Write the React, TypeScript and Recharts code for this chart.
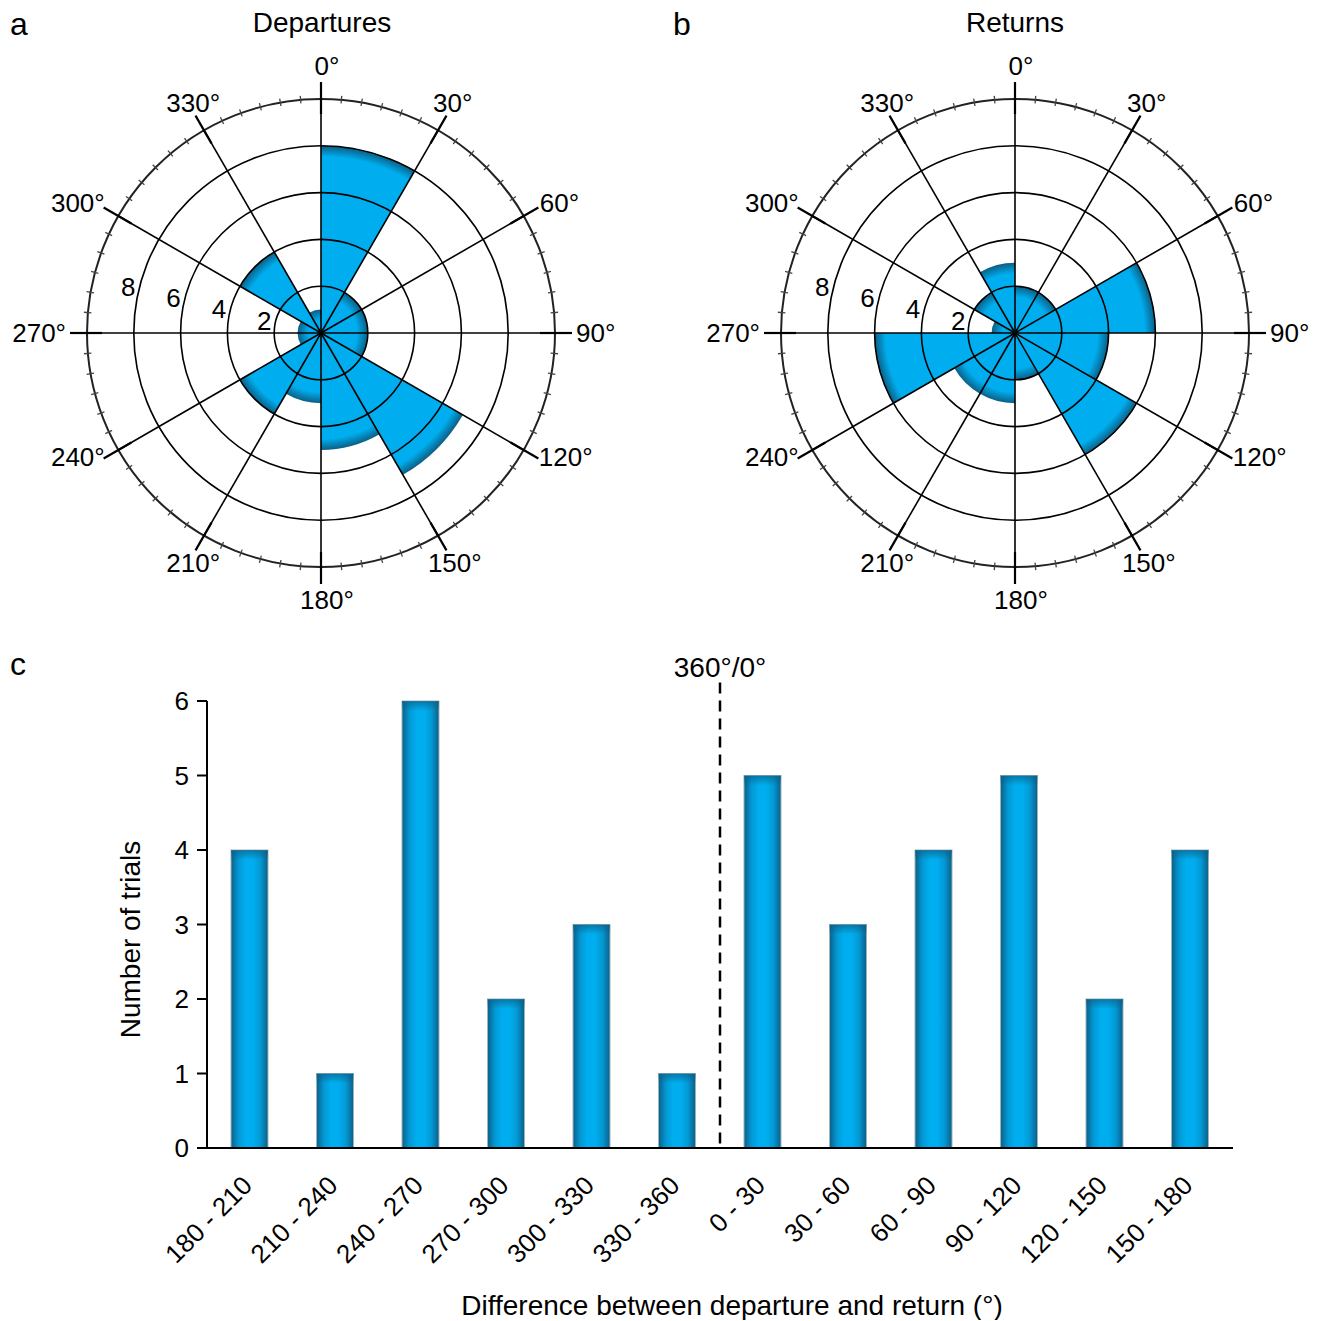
import React from 'react';
import {
  RadialBarChart,
  RadialBar,
  PolarAngleAxis,
  PolarRadiusAxis,
  PolarGrid,
  Sector,
  BarChart,
  Bar,
  XAxis,
  YAxis,
  ReferenceLine,
  Label,
} from 'recharts';

// ---------- data ----------
const sectorStarts = [0, 30, 60, 90, 120, 150, 180, 210, 240, 270, 300, 330];
const departures = [8, 2, 2, 2, 7, 5, 3, 4, 1, 1, 4, 1];
const returnsCounts = [2, 2, 6, 4, 6, 2, 3, 3, 6, 1, 2, 3];
const majorAngleStep = 30;
const rulerTicks = Array.from({ length: 72 }, (_, i) => i * 5); // 5° ruler, labels every 30°
const radiusTicks = [2, 4, 6, 8];
const radiusDomain = [0, 10];

const diffCategories = [
  '180 - 210', '210 - 240', '240 - 270', '270 - 300', '300 - 330', '330 - 360',
  '0 - 30', '30 - 60', '60 - 90', '90 - 120', '120 - 150', '150 - 180',
];
const diffCounts = [4, 1, 6, 2, 3, 1, 5, 3, 4, 5, 2, 4];
const yTicks = [0, 1, 2, 3, 4, 5, 6];
const wrapCategory = '0 - 30';
const wrapLabel = '360°/0°';

const departureData = sectorStarts.map((s, i) => ({ mid: s + 15, value: departures[i] }));
const returnData = sectorStarts.map((s, i) => ({ mid: s + 15, value: returnsCounts[i] }));
const diffData = diffCategories.map((c, i) => ({ range: c, count: diffCounts[i] }));

const FONT = '"Liberation Sans", Arial, Helvetica, sans-serif';
const BLUE = '#00AEEF';
const EDGE = '#0b5f86';
const OUTER_R = 234;
const TICK_SIZE = 8;
const CW = 620;
const CH = 630;
const CX = 321;
const CY = 333;

// ---------- polar ticks ----------
const AngleTick = (props: any) => {
  const { x, y, payload } = props;
  const th = (payload.coordinate * Math.PI) / 180;
  const ux = Math.cos(th);
  const uy = -Math.sin(th);
  const px = x - TICK_SIZE * ux; // point on the outer circle
  const py = y - TICK_SIZE * uy;
  if (payload.value % majorAngleStep !== 0) {
    return <line x1={px - 3.5 * ux} y1={py - 3.5 * uy} x2={px + 4 * ux} y2={py + 4 * uy} stroke="#444" strokeWidth={1.3} />;
  }
  const ccx = px - OUTER_R * ux;
  const ccy = py - OUTER_R * uy;
  const label = `${payload.value}°`;
  const w = (label.length - 1) * 14.46 + 10.4;
  const ax = Math.abs(ux);
  const ox = ux * (21 + w / 2) * Math.min(1, ax * 1.15) + 6 * (1 - ax);
  const oy = uy * (33 - Math.pow(ux, 4) * (uy > 0 ? 34 : 12));
  return (
    <g>
      <line x1={ccx} y1={ccy} x2={px} y2={py} stroke="#000" strokeWidth={1.6} />
      <line x1={px - 15 * ux} y1={py - 15 * uy} x2={px + 17 * ux} y2={py + 17 * uy} stroke="#000" strokeWidth={2.2} />
      <text x={px + ox} y={py + oy} dy="0.36em" textAnchor="middle" fontSize={26} fill="#000" fontFamily={FONT}>
        {label}
      </text>
    </g>
  );
};

const RadiusTick = (props: any) => {
  const { x, y, payload } = props;
  return (
    <text x={x - 4} y={y - 1.5} dy="0.36em" textAnchor="end" fontSize={26} fill="#000" fontFamily={FONT}>
      {payload.value}
    </text>
  );
};

const makeWedgeShape = (fid: string) => (props: any) => {
  const id = `${fid}-${props.index ?? Math.round(props.startAngle)}`;
  const r = props.outerRadius || 1;
  return (
    <g>
      <defs>
        <radialGradient id={id} gradientUnits="userSpaceOnUse" cx={props.cx} cy={props.cy} r={r}>
          <stop offset="0" stopColor={BLUE} />
          <stop offset={Math.max(0, 1 - 11 / r)} stopColor={BLUE} />
          <stop offset="1" stopColor={EDGE} />
        </radialGradient>
      </defs>
      <Sector
        cx={props.cx}
        cy={props.cy}
        innerRadius={props.innerRadius}
        outerRadius={props.outerRadius}
        startAngle={props.startAngle}
        endAngle={props.endAngle}
        fill={`url(#${id})`}
        stroke="none"
      />
    </g>
  );
};

function Rose({ data, fid }: { data: any[]; fid: string }) {
  const common = {
    width: CW,
    height: CH,
    data,
    cx: CX,
    cy: CY,
    innerRadius: 0,
    outerRadius: OUTER_R,
    startAngle: 90,
    endAngle: -270,
    layout: 'centric' as const,
    margin: { top: 0, right: 0, bottom: 0, left: 0 },
  };
  return (
    <div style={{ position: 'relative', width: CW, height: CH }}>
      {/* wedges */}
      <div style={{ position: 'absolute', left: 0, top: 0 }}>
        <RadialBarChart {...common} barCategoryGap={0} barGap={0}>
          <PolarAngleAxis
            type="number"
            dataKey="mid"
            domain={[0, 360]}
            ticks={sectorStarts}
            tick={false}
            tickLine={false}
            axisLine={false}
          />
          <PolarRadiusAxis type="number" dataKey="value" domain={radiusDomain} tick={false} axisLine={false} tickLine={false} />
          <RadialBar dataKey="value" fill={BLUE} isAnimationActive={false} shape={makeWedgeShape(fid)} />
        </RadialBarChart>
      </div>
      {/* grid, ruler and labels on top */}
      <div style={{ position: 'absolute', left: 0, top: 0 }}>
        <RadialBarChart {...common}>
          <PolarGrid gridType="circle" radialLines={false} stroke="#000" strokeWidth={1.6} />
          <PolarRadiusAxis
            type="number"
            dataKey="value"
            domain={radiusDomain}
            ticks={radiusTicks}
            angle={166}
            axisLine={false}
            tickLine={false}
            tick={RadiusTick}
          />
          <PolarAngleAxis
            type="number"
            dataKey="mid"
            domain={[0, 360]}
            ticks={rulerTicks}
            tick={AngleTick}
            tickLine={false}
            tickSize={TICK_SIZE}
            stroke="#222"
            axisLine={{ stroke: '#222', strokeWidth: 2 }}
            axisLineType="circle"
          />
        </RadialBarChart>
      </div>
    </div>
  );
}

// ---------- bar chart ----------
const XTick = (props: any) => {
  const { x, y, payload } = props;
  return (
    <g transform={`translate(${x + 4},${y + 39})`}>
      <text transform="rotate(-45)" textAnchor="end" fontSize={26} fill="#000" fontFamily={FONT}>
        {payload.value}
      </text>
    </g>
  );
};

const BarShape = (props: any) => {
  const id = `barGrad-${props.index}`;
  const idTop = `barTop-${props.index}`;
  return (
    <g>
      <defs>
        <linearGradient id={id} x1="0" y1="0" x2="1" y2="0">
          <stop offset="0" stopColor={EDGE} />
          <stop offset="0.2" stopColor="#0398d4" />
          <stop offset="0.4" stopColor={BLUE} />
          <stop offset="0.6" stopColor={BLUE} />
          <stop offset="0.8" stopColor="#0398d4" />
          <stop offset="1" stopColor={EDGE} />
        </linearGradient>
        <linearGradient id={idTop} gradientUnits="userSpaceOnUse" x1="0" y1={props.y} x2="0" y2={props.y + 10}>
          <stop offset="0" stopColor={EDGE} stopOpacity={0.7} />
          <stop offset="1" stopColor={EDGE} stopOpacity={0} />
        </linearGradient>
      </defs>
      <rect x={props.x} y={props.y} width={props.width} height={props.height} fill={`url(#${id})`} stroke="#9db4bf" strokeWidth={1} />
      <rect x={props.x} y={props.y} width={props.width} height={Math.min(10, props.height)} fill={`url(#${idTop})`} />
    </g>
  );
};

export default function App() {
  return (
    <div style={{ position: 'relative', width: 1320, height: 1320, overflow: 'hidden', fontFamily: FONT, color: '#000' }}>
      <style>{`body { margin: 0; }`}</style>

      {/* panel letters and titles */}
      <div style={{ position: 'absolute', left: 10, top: 6, fontSize: 32, lineHeight: '36px' }}>a</div>
      <div style={{ position: 'absolute', left: 673, top: 6, fontSize: 32, lineHeight: '36px' }}>b</div>
      <div style={{ position: 'absolute', left: 10, top: 646, fontSize: 32, lineHeight: '36px' }}>c</div>
      <div style={{ position: 'absolute', left: 172, width: 300, top: 8, fontSize: 28, lineHeight: '30px', textAlign: 'center' }}>
        Departures
      </div>
      <div style={{ position: 'absolute', left: 865, width: 300, top: 8, fontSize: 28, lineHeight: '30px', textAlign: 'center' }}>
        Returns
      </div>

      <div style={{ position: 'absolute', left: 0, top: 0 }}>
        <Rose data={departureData} fid="shadeA" />
      </div>
      <div style={{ position: 'absolute', left: 694, top: 0 }}>
        <Rose data={returnData} fid="shadeB" />
      </div>

      <div style={{ position: 'absolute', left: 0, top: 640 }}>
        <BarChart
          width={1320}
          height={680}
          data={diffData}
          margin={{ top: 61, right: 87, bottom: 52, left: 0 }}
          barSize={37}
        >
          <XAxis
            dataKey="range"
            interval={0}
            tickLine={false}
            tickSize={0}
            tickMargin={0}
            height={120}
            axisLine={{ stroke: '#000', strokeWidth: 2 }}
            tick={XTick}
          >
            <Label
              content={(p: any) => {
                const vb = p.viewBox;
                return (
                  <text x={vb.x + vb.width / 2 + 12} y={vb.y + 167} textAnchor="middle" fontSize={28} fill="#000" fontFamily={FONT}>
                    Difference between departure and return (°)
                  </text>
                );
              }}
            />
          </XAxis>
          <YAxis
            width={207}
            domain={[0, 6]}
            ticks={yTicks}
            interval={0}
            tickSize={10}
            tickMargin={8}
            axisLine={{ stroke: '#000', strokeWidth: 2 }}
            tickLine={{ stroke: '#000', strokeWidth: 2 }}
            tick={{ fontSize: 26, fill: '#000', fontFamily: FONT }}
          >
            <Label
              content={(p: any) => {
                const vb = p.viewBox;
                const lx = vb.x + 140;
                const ly = vb.y + vb.height / 2 + 15;
                return (
                  <text x={lx} y={ly} transform={`rotate(-90, ${lx}, ${ly})`} textAnchor="middle" fontSize={28} fill="#000" fontFamily={FONT}>
                    Number of trials
                  </text>
                );
              }}
            />
          </YAxis>
          <Bar dataKey="count" fill={BLUE} isAnimationActive={false} shape={BarShape} />
          <ReferenceLine
            segment={[{ x: wrapCategory, y: 6.25 }, { x: wrapCategory, y: 0 }]}
            position="start"
            ifOverflow="visible"
            stroke="#000"
            strokeWidth={2.5}
            strokeDasharray="11 7"
            label={(p: any) => {
              const vb = p.viewBox;
              return (
                <text x={vb.x} y={vb.y - 5} textAnchor="middle" fontSize={28} fill="#000" fontFamily={FONT}>
                  {wrapLabel}
                </text>
              );
            }}
          />
        </BarChart>
      </div>
    </div>
  );
}
